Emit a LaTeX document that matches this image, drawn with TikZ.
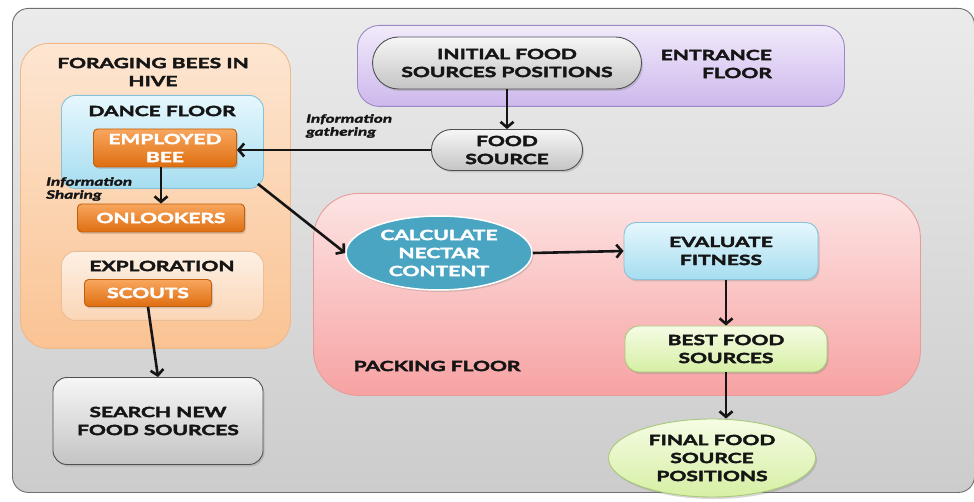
\documentclass[tikz,border=0pt]{standalone}
\usepackage{fontspec}
\setmainfont{Lato}[FakeStretch=1.5, BoldFeatures={FakeBold=3}, BoldItalicFeatures={FakeBold=2.5}]
\usetikzlibrary{arrows.meta,shapes.geometric,shadows}
\definecolor{frameedge}{HTML}{707070}
\definecolor{bgtop}{HTML}{EBEBEB}
\definecolor{bgbot}{HTML}{CCCCCC}
\definecolor{peachtop}{HTML}{FDE6D2}
\definecolor{peachbot}{HTML}{FAC393}
\definecolor{peachedge}{HTML}{F0B888}
\definecolor{paletop}{HTML}{FDF0E4}
\definecolor{palebot}{HTML}{FBD6B6}
\definecolor{paleedge}{HTML}{E9BE98}
\definecolor{bluetop}{HTML}{E6F7FD}
\definecolor{bluebot}{HTML}{A6DDF0}
\definecolor{blueedge}{HTML}{86C3DA}
\definecolor{orgtop}{HTML}{F8A65E}
\definecolor{orgbot}{HTML}{DF6E10}
\definecolor{orgedge}{HTML}{C0600E}
\definecolor{greytop}{HTML}{F6F6F6}
\definecolor{greybot}{HTML}{C4C4C4}
\definecolor{greyedge}{HTML}{505050}
\definecolor{purtop}{HTML}{F1EAFB}
\definecolor{purbot}{HTML}{CDB8EC}
\definecolor{puredge}{HTML}{9C88C2}
\definecolor{pinktop}{HTML}{FDE4E4}
\definecolor{pinkbot}{HTML}{F7A2A2}
\definecolor{pinkedge}{HTML}{E79C9C}
\definecolor{tealfill}{HTML}{4AA5C3}
\definecolor{greentop}{HTML}{F5FCE4}
\definecolor{greenbot}{HTML}{D6EFA4}
\definecolor{greenedge}{HTML}{A9C97A}
\definecolor{ink}{HTML}{151515}
\begin{document}
\begin{tikzpicture}[x=1pt,y=-1pt,
  font=\fontsize{14}{18}\selectfont\bfseries,
  every node/.style={inner sep=0pt, align=center, text=ink},
  box/.style n args={4}{draw=#3, line width=0.9pt, top color=#1, bottom color=#2, rounded corners=#4},
  sh/.style={drop shadow={opacity=0.3, shadow xshift=1.5pt, shadow yshift=-2pt}},
  orgbox/.style={box={orgtop}{orgbot}{orgedge}{4pt}, sh, text=white},
  greybox/.style={box={greytop}{greybot}{greyedge}{#1}, sh},
  arr/.style={line width=2.6pt, draw=ink, -{Straight Barb[length=5.5pt,width=13pt]}},
  ital/.style={font=\fontsize{11.5}{13}\selectfont\bfseries\itshape, align=left, anchor=north west}
]
\useasboundingbox (0,0) rectangle (974,502);
\fill[white] (0,0) rectangle (974,502);

% outer frame
\node[box={bgtop}{bgbot}{frameedge}{16pt}, minimum width=962, minimum height=484, anchor=north west] (outer) at (12,8) {};

% left hive container
\node[box={peachtop}{peachbot}{peachedge}{28pt}, minimum width=270, minimum height=305, anchor=north west] (hive) at (20,43) {};
\node (hivet) at (153,72) {FORAGING BEES IN\\HIVE};

\node[box={bluetop}{bluebot}{blueedge}{14pt}, minimum width=202, minimum height=93, anchor=north west] (dance) at (61,95) {};
\node (dancet) at (162,111) {DANCE FLOOR};
\node[orgbox, minimum width=143, minimum height=38] (employed) at (165,148) {EMPLOYED\\BEE};
\node[orgbox, minimum width=167, minimum height=28] (onlook) at (161,218) {ONLOOKERS};
\node[ital] (share) at (46,177) {Information\\Sharing};

\node[box={paletop}{palebot}{paleedge}{14pt}, minimum width=202, minimum height=69, anchor=north west] (explore) at (61,251) {};
\node (exploret) at (162,266) {EXPLORATION};
\node[orgbox, minimum width=127, minimum height=27] (scouts) at (148,293) {SCOUTS};

\node[greybox=14pt, minimum width=210, minimum height=87] (search) at (158,421) {SEARCH NEW\\FOOD SOURCES};

% entrance floor
\node[box={purtop}{purbot}{puredge}{22pt}, minimum width=487, minimum height=81, anchor=north west] (entrance) at (357,25) {};
\node[align=right, anchor=east] (entrancet) at (772,64) {ENTRANCE\\FLOOR};
\node[greybox=26pt, minimum width=269, minimum height=52] (initial) at (507,63) {INITIAL FOOD\\SOURCES POSITIONS};
\node[greybox=20pt, minimum width=151, minimum height=41] (food) at (507,150) {FOOD\\SOURCE};
\node[ital] (gather) at (306,114) {Information\\gathering};

% packing floor
\node[box={pinktop}{pinkbot}{pinkedge}{45pt}, minimum width=607, minimum height=202, anchor=north west] (packing) at (313,193) {};
\node (packingt) at (437,366) {PACKING FLOOR};
\node[ellipse, draw=white, line width=1.5pt, fill=tealfill, text=white, minimum width=186, minimum height=74, sh] (calc) at (439,253) {CALCULATE\\NECTAR\\CONTENT};
\node[box={bluetop}{bluebot}{blueedge}{12pt}, sh, minimum width=194, minimum height=57] (eval) at (721,251) {EVALUATE\\FITNESS};
\node[box={greentop}{greenbot}{greenedge}{14pt}, sh, minimum width=202, minimum height=46] (best) at (726,349) {BEST FOOD\\SOURCES};
\node[ellipse, draw=greenedge, line width=0.9pt, top color=greentop, bottom color=greenbot, sh, minimum width=207, minimum height=78] (final) at (712,458) {FINAL FOOD\\SOURCE\\POSITIONS};

% connectors
\draw[arr] (initial.south) -- (food.north);
\draw[arr] (food.west) -- (food.west -| employed.east);
\draw[arr] (employed.south -| onlook.north) -- (onlook.north);
\draw[arr] (scouts.south) -- (search.north);
\draw[arr] ([shift={(-6,-5)}]dance.south east) -- (calc.west);
\draw[arr] (calc.east) -- (eval.west);
\draw[arr] (eval.south -| best.north) -- (best.north);
\draw[arr] (best.south) -- (best.south |- final.north);
\end{tikzpicture}
\end{document}
